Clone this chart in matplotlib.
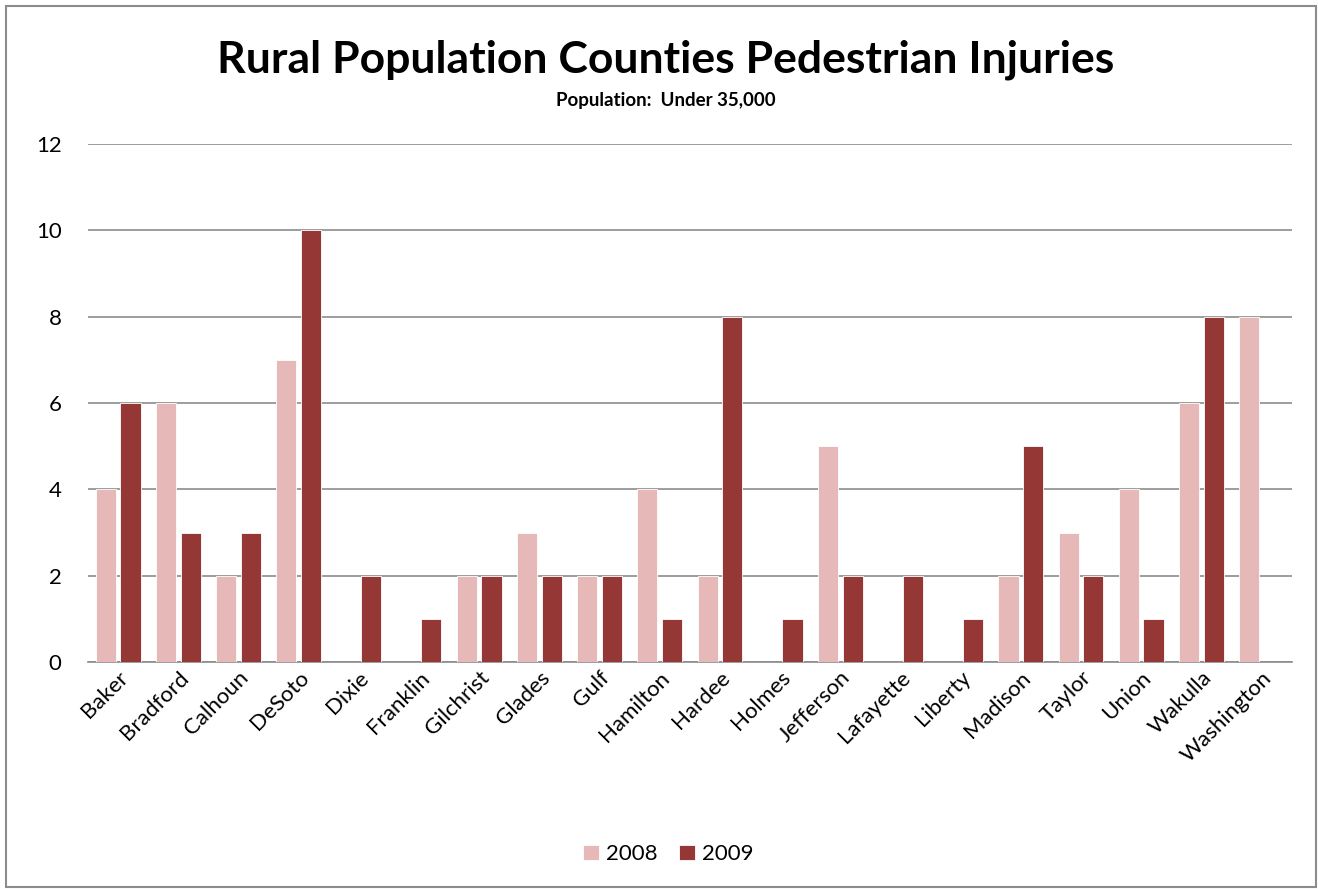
import numpy as np
import matplotlib.pyplot as plt
from matplotlib.patches import Rectangle

counties = ["Baker", "Bradford", "Calhoun", "DeSoto", "Dixie", "Franklin", "Gilchrist",
            "Glades", "Gulf", "Hamilton", "Hardee", "Holmes", "Jefferson", "Lafayette",
            "Liberty", "Madison", "Taylor", "Union", "Wakulla", "Washington"]
inj_2008 = [4, 6, 2, 7, 0, 0, 2, 3, 2, 4, 2, 0, 5, 0, 0, 2, 3, 4, 6, 8]
inj_2009 = [6, 3, 3, 10, 2, 1, 2, 2, 2, 1, 8, 1, 2, 2, 1, 5, 2, 1, 8, 0]

plt.rcParams['font.family'] = ['Lato', 'DejaVu Sans']

fig = plt.figure(figsize=(13.18, 8.89), dpi=100)
ax = fig.add_axes([0.0668, 0.2553, 0.9132, 0.5827])

x = np.arange(len(counties))
w = 0.335
ax.bar(x - 0.205, inj_2008, w, color="#E6B9B8", edgecolor="white", linewidth=0.6, label="2008", zorder=3)
ax.bar(x + 0.205, inj_2009, w, color="#953735", edgecolor="white", linewidth=0.6, label="2009", zorder=3)

ax.set_xlim(-0.5, len(counties) - 0.5)
ax.set_ylim(0, 12)
ax.set_yticks(range(0, 13, 2))
ax.yaxis.grid(True, color="#8c8c8c", linewidth=1.2, zorder=0)
ax.tick_params(axis="y", length=0, labelsize=16, pad=19)
ax.tick_params(axis="x", length=0, labelsize=16, pad=4)
ax.set_xticks(x)
ax.set_xticklabels(counties, rotation=45, ha="right", rotation_mode="anchor")
for s in ["top", "right", "left"]:
    ax.spines[s].set_visible(False)
ax.spines["bottom"].set_color("#8c8c8c")
ax.spines["bottom"].set_linewidth(1.2)

fig.text(0.505, 0.933, "Rural Population Counties Pedestrian Injuries", ha="center", va="center",
         fontsize=32, fontweight="bold")
fig.text(0.505, 0.887, "Population:  Under 35,000", ha="center", va="center",
         fontsize=13.5, fontweight="bold")

fig.legend(loc="center", bbox_to_anchor=(0.507, 0.039), ncol=2, frameon=False, fontsize=16,
           handlelength=0.7, handleheight=0.7, handletextpad=0.3, columnspacing=1.0)

fig.patches.append(Rectangle((0.0045, 0.002), 0.994, 0.991, transform=fig.transFigure,
                             fill=False, edgecolor="#8c8c8c", linewidth=1.5))

fig.savefig("out.png", dpi=100)
